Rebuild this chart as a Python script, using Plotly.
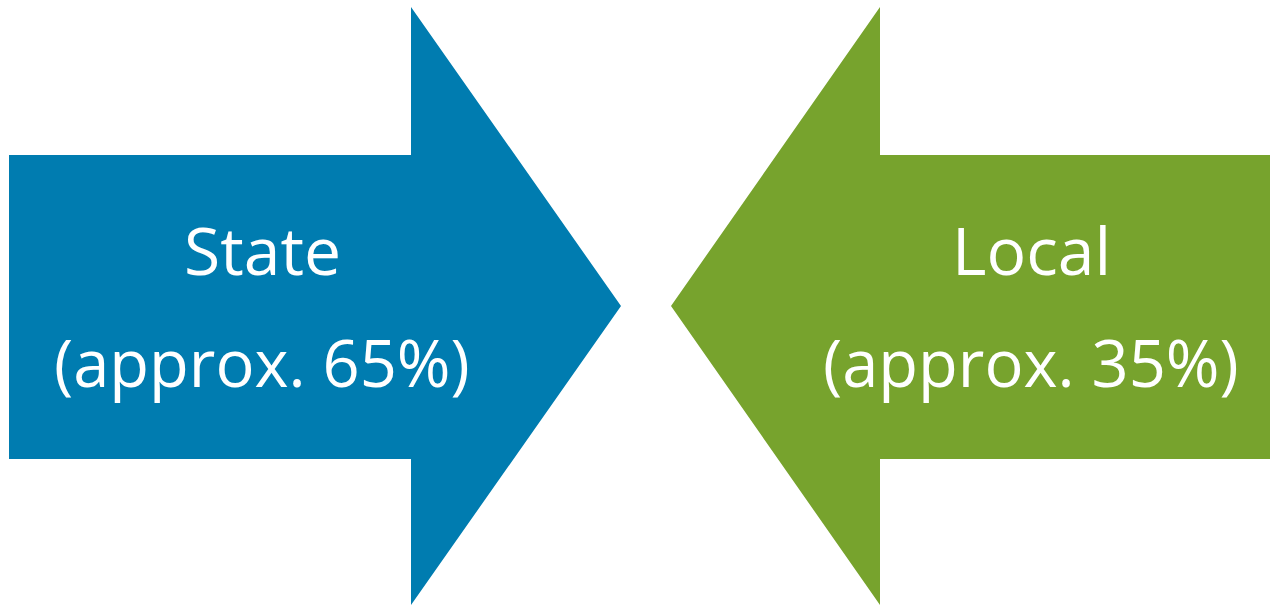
import plotly.graph_objects as go

labels = ["State", "Local"]
shares = [65, 35]
colors = ["#007CB0", "#77A32D"]

W, H = 1270, 606

# arrow geometry (pixel space of the canvas)
blue_x = [9, 411, 411, 621, 411, 411, 9, 9]
blue_y = [155, 155, 7, 306, 605, 459, 459, 155]
green_x = [1270, 880, 880, 671, 880, 880, 1270, 1270]
green_y = [155, 155, 7, 306, 605, 459, 459, 155]

fig = go.Figure()
for xs, ys, c in [(blue_x, blue_y, colors[0]), (green_x, green_y, colors[1])]:
    fig.add_trace(go.Scatter(x=xs, y=ys, fill="toself", fillcolor=c, mode="lines",
                             line=dict(width=0, color=c), hoverinfo="skip", showlegend=False))

centers = [262, 1031]
for lab, sh, cx in zip(labels, shares, centers):
    fig.add_annotation(x=cx, y=249, xref="x", yref="y", text=lab, showarrow=False,
                       font=dict(family="Open Sans", size=66, color="white"),
                       xanchor="center", yanchor="middle")
    fig.add_annotation(x=cx, y=362, xref="x", yref="y", text=f"(approx. {sh}%)", showarrow=False,
                       font=dict(family="Open Sans", size=65, color="white"),
                       xanchor="center", yanchor="middle")

fig.update_xaxes(range=[0, W], visible=False, fixedrange=True)
fig.update_yaxes(range=[H, 0], visible=False, fixedrange=True)
fig.update_layout(width=W, height=H, margin=dict(l=0, r=0, t=0, b=0),
                  paper_bgcolor="white", plot_bgcolor="white")
fig.write_html("out.html")
